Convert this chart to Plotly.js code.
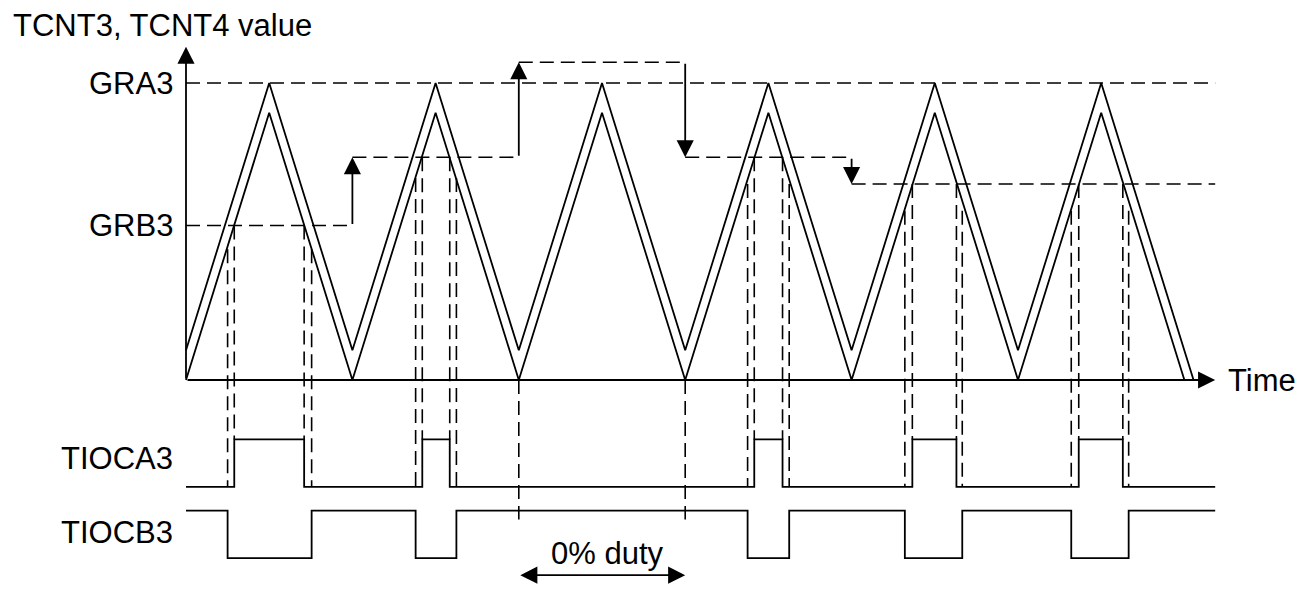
<!DOCTYPE html>
<html><head><meta charset="utf-8">
<script src="https://cdn.plot.ly/plotly-3.0.1.min.js"></script>
<style>html,body{margin:0;padding:0;background:#fff;} #chart{width:1310px;height:597px;}</style>
</head><body><div id="chart"></div>
<script>
// ---- data (time in carrier half-periods, counter value in arbitrary counts) ----
const tcnt3Time  = [0,1,2,3,4,5,6,7,8,9,10,11,12.11];
const tcnt3Value = [10,100,10,100,10,100,10,100,10,100,10,100,0];
const tcnt4Time  = [0,1,2,3,4,5,6,7,8,9,10,11,12];
const tcnt4Value = [0,90,0,90,0,90,0,90,0,90,0,90,0];
const gra3Value = 100;
const grb3Start = [0,2,4,6,8];
const grb3End   = [2,4,6,8,12.37];
const grb3Value = [52,75,107,75,66];
const tioca3Rise = [0.58,2.84,6.83,8.73,10.73];
const tioca3Fall = [1.42,3.17,7.17,9.26,11.26];
const tiocb3Fall = [0.50,2.76,6.75,8.64,10.64];
const tiocb3Rise = [1.51,3.25,7.25,9.33,11.33];
const edgeCounterValue = [44,68,66,57,57];
const zeroDutyTimes = [4,6];
const timeEnd = 12.37;
const axisTop = 112.2;
const levelLabels = ['GRA3','GRB3'];
const signalLabels = ['TIOCA3','TIOCB3'];
const axisTitle = 'TCNT3, TCNT4 value';
const timeLabel = 'Time';
const dutyLabel = '0% duty';

// ---- layout helpers ----
const rowA = {low:-36, high:-20};
const rowB = {low:-60, high:-44};
const K = 'black';
const FONT = {family:'"Liberation Sans", Arial, sans-serif', size:31, color:K};
const solid = {color:K, width:1.8};
const dashed = {color:K, width:1.6, dash:'14px,7px'};

function cmpAt(t){ for(let i=0;i<grb3Start.length;i++){ if(t>=grb3Start[i] && t<grb3End[i]) return grb3Value[i]; } return grb3Value[grb3Value.length-1]; }

const traces = [];
traces.push({x:tcnt3Time, y:tcnt3Value, mode:'lines', line:solid, name:'TCNT3'});
traces.push({x:tcnt4Time, y:tcnt4Value, mode:'lines', line:solid, name:'TCNT4'});
traces.push({x:[0,timeEnd], y:[gra3Value,gra3Value], mode:'lines', line:dashed, name:'GRA3'});
{
  const x=[],y=[];
  grb3Start.forEach((s,i)=>{ x.push(s,grb3End[i],null); y.push(grb3Value[i],grb3Value[i],null); });
  traces.push({x, y, mode:'lines', line:dashed, name:'GRB3'});
}
{
  const x=[],y=[];
  tioca3Rise.forEach((r,i)=>{
    const f = tioca3Fall[i], c = cmpAt(r);
    x.push(r,r,null,f,f,null); y.push(c,rowA.high,null,c,rowA.high,null);
    const bf = tiocb3Fall[i], br = tiocb3Rise[i], v = edgeCounterValue[i];
    x.push(bf,bf,null,br,br,null); y.push(v,rowA.low,null,v,rowA.low,null);
  });
  zeroDutyTimes.forEach(t=>{ x.push(t,t,null); y.push(0,-47,null); });
  traces.push({x, y, mode:'lines', line:dashed, name:'guides'});
}
{
  const x=[0], y=[rowA.low];
  tioca3Rise.forEach((r,i)=>{ x.push(r,tioca3Fall[i]); y.push(rowA.high,rowA.low); });
  x.push(timeEnd); y.push(rowA.low);
  traces.push({x, y, mode:'lines', line:Object.assign({shape:'hv'},solid), name:'TIOCA3'});
}
{
  const x=[0], y=[rowB.high];
  tiocb3Fall.forEach((f,i)=>{ x.push(f,tiocb3Rise[i]); y.push(rowB.low,rowB.high); });
  x.push(timeEnd); y.push(rowB.high);
  traces.push({x, y, mode:'lines', line:Object.assign({shape:'hv'},solid), name:'TIOCB3'});
}

const ann = [];
function arrow(x0,y0,x1,y1,extra){
  ann.push(Object.assign({x:x1,y:y1,ax:x0,ay:y0,xref:'x',yref:'y',axref:'x',ayref:'y',
    text:'',showarrow:true,arrowhead:2,arrowsize:1.9,arrowwidth:1.8,arrowcolor:K,standoff:0},extra||{}));
}
arrow(0,0,0,axisTop);
arrow(0,0,timeEnd,0);
for(let k=1;k<grb3Start.length;k++){ arrow(grb3Start[k],grb3Value[k-1],grb3Start[k],grb3Value[k]); }
arrow(zeroDutyTimes[0],-65.7,zeroDutyTimes[1],-65.7,{arrowside:'end+start',startarrowhead:2,startarrowsize:1.9});

function label(text,x,y,xanchor,extra){
  ann.push(Object.assign({text,x,y,xref:'x',yref:'y',xanchor,yanchor:'middle',showarrow:false,font:FONT},extra||{}));
}
label(levelLabels[0],-0.13,gra3Value,'right');
label(levelLabels[1],-0.13,grb3Value[0],'right');
label(signalLabels[0],-0.13,-26.3,'right');
label(signalLabels[1],-0.13,-51.3,'right');
label(timeLabel,12.5,0,'left');
label(dutyLabel,5.07,-58.3,'center');
label(axisTitle,-2.1,119.5,'left');

const layout = {
  width:1310, height:597,
  margin:{l:0,r:0,t:0,b:0},
  paper_bgcolor:'white', plot_bgcolor:'white',
  showlegend:false, hovermode:false,
  xaxis:{range:[-186/83.2,(1310-186)/83.2], visible:false, fixedrange:true},
  yaxis:{range:[(380-597)/2.97, 380/2.97], visible:false, fixedrange:true},
  annotations:ann
};
Plotly.newPlot('chart', traces, layout, {displayModeBar:false, staticPlot:true});
</script></body></html>
